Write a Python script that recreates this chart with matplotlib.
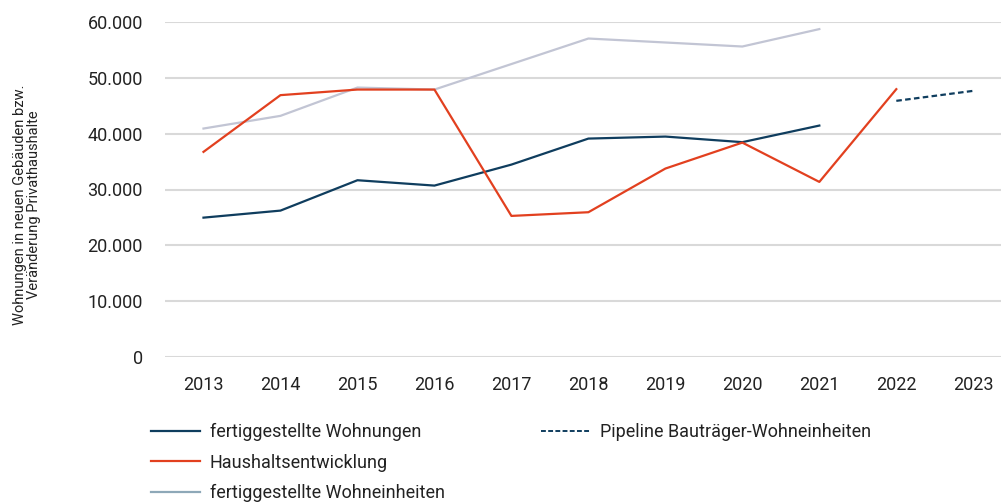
import matplotlib
matplotlib.use("Agg")
import matplotlib.pyplot as plt
from matplotlib.lines import Line2D

plt.rcParams['font.family'] = ['Roboto', 'DejaVu Sans']

years = ["2013", "2014", "2015", "2016", "2017", "2018", "2019", "2020", "2021", "2022", "2023"]
wohnungen = [24960, 26220, 31660, 30700, 34460, 39120, 39480, 38480, 41450]
haushalt = [36740, 46900, 47900, 47900, 25270, 25930, 33750, 38400, 31360, 47970]
wohneinheiten = [40920, 43190, 48260, 47900, 52470, 57040, 56330, 55610, 58730]
pipeline_years = ["2022", "2023"]
pipeline = [45880, 47670]
yticks = [0, 10000, 20000, 30000, 40000, 50000, 60000]
ytick_labels = ["0", "10.000", "20.000", "30.000", "40.000", "50.000", "60.000"]

c_blue = "#0f3d5e"
c_red = "#e2401f"
c_grey = "#c2c5d4"
c_grey_leg = "#8ea8b8"
c_text = "#222222"

fig = plt.figure(figsize=(10.01, 5.03), dpi=100)
ax = fig.add_axes([165/1001, 1-357/503, (1001-165)/1001, (357-22)/503])

idx = {y: i for i, y in enumerate(years)}
x_w = [idx[y] for y in years[:len(wohnungen)]]
x_h = [idx[y] for y in years[:len(haushalt)]]
x_e = [idx[y] for y in years[:len(wohneinheiten)]]
x_p = [idx[y] for y in pipeline_years]

lw = 1.6
ax.plot(x_e, wohneinheiten, color=c_grey, lw=lw)
ax.plot(x_w, wohnungen, color=c_blue, lw=lw)
ax.plot(x_h, haushalt, color=c_red, lw=lw)
ax.plot(x_p, pipeline, color=c_blue, lw=lw, ls=(0, (2.5, 1.5)))

ax.set_ylim(0, 60000)
ax.set_xlim(-0.5, 10.36)
ax.set_yticks(yticks)
ax.set_yticklabels(ytick_labels)
ax.set_xticks(range(len(years)))
ax.set_xticklabels(years)
ax.grid(axis='y', color='#d9d9d9', lw=1.5)
ax.set_axisbelow(True)
for s in ax.spines.values():
    s.set_visible(False)
ax.tick_params(axis='both', length=0, labelsize=13, colors=c_text)
ax.tick_params(axis='y', pad=16)
ax.tick_params(axis='x', pad=14)

fig.text(27/1001, 1-205/503, "Wohnungen in neuen Gebäuden bzw.\nVeränderung Privathaushalte",
         rotation=90, ha='center', va='center', fontsize=10.5, color=c_text, linespacing=1.05)

handles = [
    Line2D([], [], color=c_blue, lw=lw),
    Line2D([], [], color=c_red, lw=lw),
    Line2D([], [], color=c_grey_leg, lw=lw),
]
labels = ["fertiggestellte Wohnungen", "Haushaltsentwicklung", "fertiggestellte Wohneinheiten"]
leg1 = fig.legend(handles, labels, loc='upper left', bbox_to_anchor=(151/1001, 1-423/503),
                  frameon=False, fontsize=13, handlelength=2.7, handletextpad=0.55,
                  labelspacing=0.70, borderpad=0, borderaxespad=0)
for t in leg1.get_texts():
    t.set_color(c_text)
leg2 = fig.legend([Line2D([], [], color=c_blue, lw=1.4, ls=(0, (2.5, 1.2)))],
                  ["Pipeline Bauträger-Wohneinheiten"], loc='upper left',
                  bbox_to_anchor=(541/1001, 1-423/503), frameon=False, fontsize=13,
                  handlelength=2.7, handletextpad=0.55, borderpad=0, borderaxespad=0)
for t in leg2.get_texts():
    t.set_color(c_text)

fig.savefig("out.png", dpi=100)
